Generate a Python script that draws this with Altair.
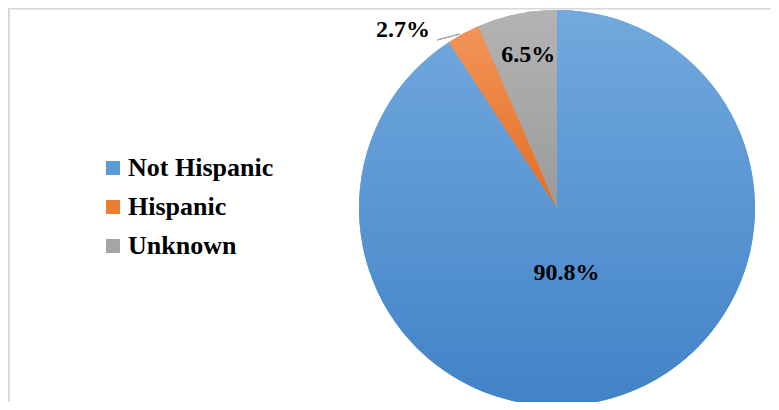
import altair as alt
import pandas as pd

categories = ["Not Hispanic", "Hispanic", "Unknown"]
values = [90.8, 2.7, 6.5]
labels = ["90.8%", "2.7%", "6.5%"]
order = [0, 1, 2]

solid = ["#5B9BD5", "#ED7D31", "#A5A5A5"]
grad_top = ["#72A9DE", "#F29559", "#B3B3B3"]
grad_bot = ["#4183C7", "#E46C22", "#9B9B9B"]

df = pd.DataFrame({"cat": categories, "value": values, "label": labels, "order": order})

W, H = 763, 394
CX, CY, R = 549, 200, 198


def grad(c1, c2):
    return {"gradient": "linear", "x1": 0, "y1": 0, "x2": 0, "y2": 1,
            "stops": [{"offset": 0, "color": c1}, {"offset": 1, "color": c2}]}


base = alt.Chart(df).encode(
    theta=alt.Theta("value:Q", stack=True),
    order=alt.Order("order:Q"),
    detail="cat:N",
)

legend_arcs = base.mark_arc(outerRadius=R, x=CX, y=CY).encode(
    color=alt.Color(
        "cat:N",
        scale=alt.Scale(domain=categories, range=solid),
        legend=alt.Legend(
            title=None, orient="none", legendX=92, legendY=147,
            labelFont="Liberation Serif", labelFontSize=26, labelFontWeight="bold",
            labelColor="black", symbolType="square", symbolSize=196,
            symbolStrokeWidth=0, symbolOpacity=1, rowPadding=13, labelOffset=2,
            padding=0, labelLimit=400,
        ),
    )
)

fill_cond = (
    alt.when(alt.datum.cat == categories[0]).then(alt.value(grad(grad_top[0], grad_bot[0])))
    .when(alt.datum.cat == categories[1]).then(alt.value(grad(grad_top[1], grad_bot[1])))
    .otherwise(alt.value(grad(grad_top[2], grad_bot[2])))
)
grad_arcs = base.mark_arc(outerRadius=R, x=CX, y=CY).encode(fill=fill_cond)

label_specs = [
    (categories[0], 68, -10, 0),
    (categories[1], 205, -57, 3),
    (categories[2], 156, 3, 0),
]
text_layers = []
for cat, rad, dx, dy in label_specs:
    text_layers.append(
        base.mark_text(
            radius=rad, x=CX, y=CY, dx=dx, dy=dy,
            font="Liberation Serif", fontSize=24, fontWeight="bold", color="black",
            align="center", baseline="middle",
        ).encode(text=alt.when(alt.datum.cat == cat).then("label:N").otherwise(alt.value("")))
    )

leader = alt.Chart(df).mark_rule(color="#A6A6A6", strokeWidth=1).encode(
    x=alt.value(429), x2=alt.value(452), y=alt.value(32), y2=alt.value(26)
)

border_left = alt.Chart(df).mark_rule(color="#D9D9D9", strokeWidth=2).encode(
    x=alt.value(0.5), y=alt.value(0), y2=alt.value(H)
)
border_top = alt.Chart(df).mark_rule(color="#D9D9D9", strokeWidth=1.5).encode(
    x=alt.value(0), x2=alt.value(W), y=alt.value(0.5)
)

chart = alt.layer(legend_arcs, grad_arcs, *text_layers, leader, border_left, border_top).properties(
    width=W, height=H,
    autosize=alt.AutoSizeParams(type="none"),
    padding=0,
).configure_view(stroke=None).configure(background="white")

chart.save("out.html", embed_options={"renderer": "svg", "actions": False})
